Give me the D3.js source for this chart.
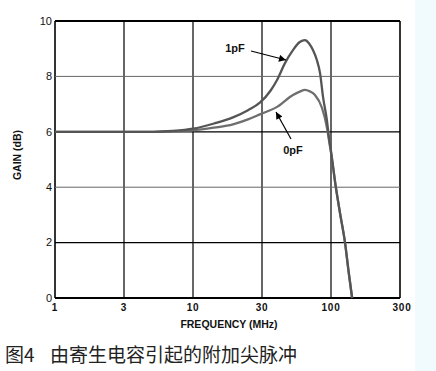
<!DOCTYPE html>
<html>
<head>
<meta charset="utf-8">
<script src="https://cdn.jsdelivr.net/npm/d3@7"></script>
<style>
  body { margin: 0; background: #fff; }
  svg { display: block; }
</style>
</head>
<body>
<div id="chart"></div>
<script>
// frequency ticks (MHz) - evenly spaced half decades on the original plot
var freqTicks = [1, 3, 10, 30, 100, 300];
var gainTicks = [0, 2, 4, 6, 8, 10];

// 1pF curve
var freq1pF = [1, 5, 7, 10, 14, 18.9, 24, 29, 35, 39, 44.8, 51.5, 58, 63.5, 68, 73, 78, 82.6, 87, 93, 96.5, 100, 108, 116, 125, 132, 140];
var gain1pF = [6.0, 6.0, 6.03, 6.11, 6.3, 6.52, 6.78, 7.05, 7.5, 7.87, 8.48, 8.95, 9.24, 9.31, 9.2, 8.95, 8.6, 8.12, 7.26, 6.43, 5.8, 5.3, 4.0, 3.0, 2.0, 1.0, 0];

// 0pF curve
var freq0pF = [1, 5, 7, 10, 14, 18.9, 24, 29, 39, 51.5, 58, 63.5, 69, 75.6, 85.5, 93, 96.5, 100, 108, 116, 125, 132, 140];
var gain0pF = [6.0, 6.0, 6.02, 6.05, 6.15, 6.27, 6.45, 6.63, 6.9, 7.33, 7.45, 7.51, 7.46, 7.33, 6.86, 6.17, 5.7, 5.25, 4.0, 3.0, 2.0, 1.0, 0];

var W = 436, H = 371;
var svg = d3.select("#chart").append("svg").attr("width", W).attr("height", H);

// light stripe at right edge
svg.append("rect").attr("x", 415).attr("y", 0).attr("width", W - 415).attr("height", H)
  .attr("fill", "#f1fafd");

var x = d3.scaleLog()
  .domain(freqTicks)
  .range(freqTicks.map(function(d, i) { return 55 + i * 69; }));
var y = d3.scaleLinear().domain([0, 10]).range([298, 21]);

var g = svg.append("g");

// grid
g.selectAll(".vgrid").data(freqTicks).enter().append("line")
  .attr("x1", function(d) { return x(d); }).attr("x2", function(d) { return x(d); })
  .attr("y1", y(0)).attr("y2", y(10))
  .attr("stroke", "#000").attr("stroke-width", function(d, i) {
    return (i == 0 || i == freqTicks.length - 1) ? 1.6 : 1.2;
  });
g.selectAll(".hgrid").data(gainTicks).enter().append("line")
  .attr("x1", x(1)).attr("x2", x(300))
  .attr("y1", function(d) { return y(d); }).attr("y2", function(d) { return y(d); })
  .attr("stroke", function(d) { return (d == 8 || d == 4) ? "#666" : "#000"; })
  .attr("stroke-width", function(d) {
    if (d == 0 || d == 10) return 2.2;
    return (d == 8 || d == 4) ? 1 : 1.3;
  });

// tick labels
g.selectAll(".ylab").data(gainTicks).enter().append("text")
  .attr("x", 52).attr("y", function(d) { return y(d); })
  .attr("dy", "0.35em").attr("text-anchor", "end")
  .attr("font-family", "Liberation Sans, Arial, sans-serif").attr("font-size", 11)
  .attr("fill", "#111")
  .text(function(d) { return d; });

g.selectAll(".xlab").data(freqTicks).enter().append("text")
  .attr("x", function(d, i) { return x(d) + (i == freqTicks.length - 1 ? 2 : 0); })
  .attr("y", 307).attr("dy", "0.35em").attr("text-anchor", "middle")
  .attr("font-family", "Liberation Sans, Arial, sans-serif").attr("font-size", 10)
  .attr("font-weight", "bold").attr("letter-spacing", "0.8px")
  .attr("fill", "#111")
  .text(function(d) { return d; });

// axis titles
svg.append("text").attr("x", 229).attr("y", 324).attr("dy", "0.35em")
  .attr("text-anchor", "middle")
  .attr("font-family", "Liberation Sans, Arial, sans-serif").attr("font-size", 10.5)
  .attr("font-weight", "bold").attr("fill", "#111")
  .text("FREQUENCY (MHz)");

svg.append("text").attr("transform", "translate(17,155) rotate(-90)")
  .attr("dy", "0.35em").attr("text-anchor", "middle")
  .attr("font-family", "Liberation Sans, Arial, sans-serif").attr("font-size", 10.5)
  .attr("font-weight", "bold").attr("fill", "#111")
  .text("GAIN (dB)");

// curves
var line = d3.line()
  .x(function(d) { return x(d[0]); })
  .y(function(d) { return y(d[1]); })
  .curve(d3.curveMonotoneX);

g.append("path").datum(d3.zip(freq0pF, gain0pF))
  .attr("d", line).attr("fill", "none")
  .attr("stroke", "#6e6e6e").attr("stroke-width", 2.3);
g.append("path").datum(d3.zip(freq1pF, gain1pF))
  .attr("d", line).attr("fill", "none")
  .attr("stroke", "#555").attr("stroke-width", 2.3);

// annotations
var defs = svg.append("defs");
defs.append("marker").attr("id", "arr").attr("viewBox", "0 0 10 10")
  .attr("refX", 10).attr("refY", 5).attr("markerWidth", 9).attr("markerHeight", 7)
  .attr("markerUnits", "userSpaceOnUse").attr("orient", "auto")
  .append("path").attr("d", "M0,0 L10,5 L0,10 Z").attr("fill", "#000");

svg.append("line").attr("x1", 251).attr("y1", 51).attr("x2", 286).attr("y2", 60)
  .attr("stroke", "#000").attr("stroke-width", 1.2).attr("marker-end", "url(#arr)");
svg.append("line").attr("x1", 291).attr("y1", 139).attr("x2", 276).attr("y2", 112)
  .attr("stroke", "#000").attr("stroke-width", 1.2).attr("marker-end", "url(#arr)");

svg.append("text").attr("x", 235).attr("y", 48).attr("dy", "0.35em")
  .attr("text-anchor", "middle")
  .attr("font-family", "Liberation Sans, Arial, sans-serif").attr("font-size", 11)
  .attr("font-weight", "bold").attr("fill", "#111").text("1pF");
svg.append("text").attr("x", 293).attr("y", 150).attr("dy", "0.35em")
  .attr("text-anchor", "middle")
  .attr("font-family", "Liberation Sans, Arial, sans-serif").attr("font-size", 11)
  .attr("font-weight", "bold").attr("fill", "#111").text("0pF");

// caption
svg.append("text").attr("x", 5).attr("y", 355).attr("dy", "0.35em")
  .attr("font-family", "Noto Sans CJK SC, sans-serif").attr("font-size", 19)
  .attr("fill", "#222")
  .text("图4");
svg.append("text").attr("x", 50).attr("y", 355).attr("dy", "0.35em")
  .attr("font-family", "Noto Sans CJK SC, sans-serif").attr("font-size", 19)
  .attr("fill", "#222")
  .text("由寄生电容引起的附加尖脉冲");
</script>
</body>
</html>
